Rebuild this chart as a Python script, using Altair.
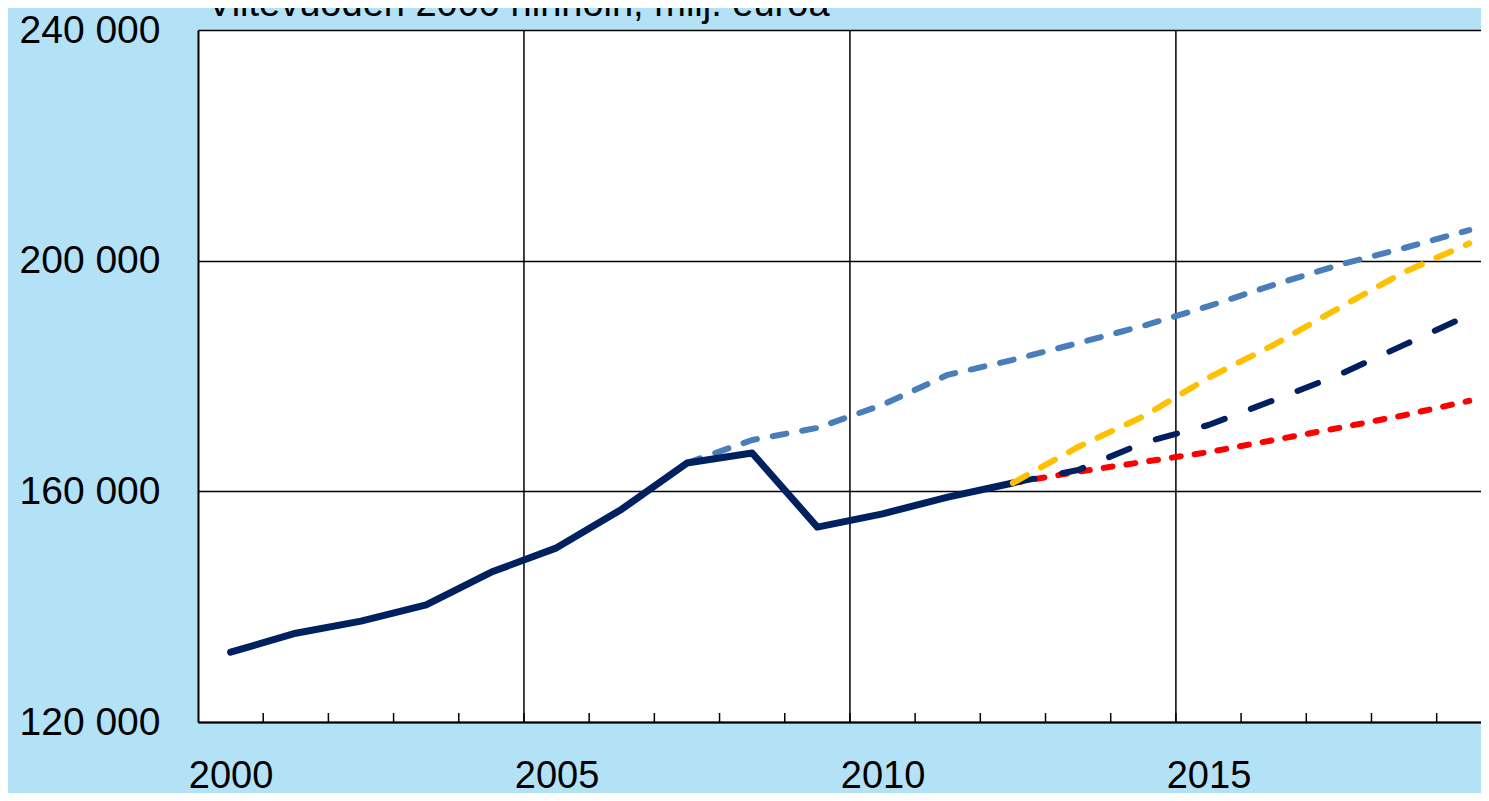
import altair as alt
import pandas as pd

title_text = "Viitevuoden 2000 hinnoin, milj. euroa"

years_actual = list(range(2000, 2013))
actual = [132100, 135400, 137500, 140300, 146000, 150200, 156900, 164900,
          166650, 153800, 156100, 159000, 161450]

years_pre = list(range(2007, 2020))
pre_crisis = [164900, 168900, 171000, 175000, 180200, 182800, 185700,
              188700, 192100, 195800, 199250, 202200, 205300]

years_proj = list(range(2012, 2020))
fast = [161450, 167700, 173000, 179700, 185400, 191800, 198000, 203000]
base = [161450, 163700, 168400, 171500, 175800, 180200, 185400, 190600]
slow = [161450, 163400, 165100, 166800, 168900, 171000, 173200, 175700]

year_labels = [2000, 2005, 2010, 2015]
y_ticks = [120000, 160000, 200000, 240000]
minor_ticks = [y + 0.5 for y in range(2000, 2019)]
major_grid = [2004.5, 2009.5, 2014.5]

FONT = "Liberation Sans"

xscale = alt.Scale(domain=[1999.5, 2019.18], nice=False, zero=False)
yscale = alt.Scale(domain=[120000, 240000], nice=False, zero=False)

def series(years, vals):
    return pd.DataFrame({"year": years, "value": vals})

base_x = alt.X("year:Q", scale=xscale,
               axis=alt.Axis(values=year_labels, format="d", ticks=False, grid=False,
                             labelFontSize=38, labelFont=FONT, labelColor="black",
                             labelPadding=35, domainColor="black", domainWidth=2,
                             title=None))
base_y = alt.Y("value:Q", scale=yscale,
               axis=alt.Axis(values=y_ticks, ticks=False, grid=True,
                             gridColor="black", gridWidth=1.5, gridOpacity=1,
                             labelExpr="replace(format(datum.value, ','), ',', ' ')",
                             labelFontSize=39, labelFont=FONT, labelColor="black",
                             labelPadding=38, domainColor="black", domainWidth=2,
                             title=None))

def line(df, color, width, dash=None):
    kw = dict(color=color, strokeWidth=width, strokeCap="round", strokeJoin="round")
    if dash:
        kw["strokeDash"] = dash
    return alt.Chart(df).mark_line(**kw).encode(
        x=alt.X("year:Q", scale=xscale),
        y=alt.Y("value:Q", scale=yscale))

axes_layer = alt.Chart(series(years_actual, actual)).mark_line(opacity=0).encode(
    x=base_x, y=base_y)

vgrid = alt.Chart(pd.DataFrame({"x": major_grid})).mark_rule(
    color="black", strokeWidth=1.5).encode(
    x=alt.X("x:Q", scale=xscale), y=alt.value(0), y2=alt.value(692))

ticks = alt.Chart(pd.DataFrame({"x": minor_ticks})).mark_rule(
    color="black", strokeWidth=1.5).encode(
    x=alt.X("x:Q", scale=xscale), y=alt.value(692), y2=alt.value(683))

title = alt.Chart(pd.DataFrame({"t": [title_text]})).mark_text(
    align="left", baseline="alphabetic", fontSize=38, font=FONT, color="black").encode(
    x=alt.value(9), y=alt.value(-14), text="t:N")

chart = alt.layer(
    axes_layer,
    vgrid,
    ticks,
    line(series(years_pre, pre_crisis), "#4a7ebb", 6, [14, 16]),
    line(series(years_actual, actual), "#002060", 7),
    line(series(years_proj, slow), "#ff0000", 6, [9, 14]),
    line(series(years_proj, base), "#002060", 6, [22, 28]),
    line(series(years_proj, fast), "#ffc000", 6, [16, 16]),
    title,
).properties(
    width=1283, height=692,
    background="#b3e1f6",
    padding={"left": 190, "top": 22, "right": 0, "bottom": 71},
    autosize=alt.AutoSizeParams(type="none"),
).configure_view(fill="white", strokeWidth=0)

chart.save("out.html", embed_options={"renderer": "svg", "actions": False})
